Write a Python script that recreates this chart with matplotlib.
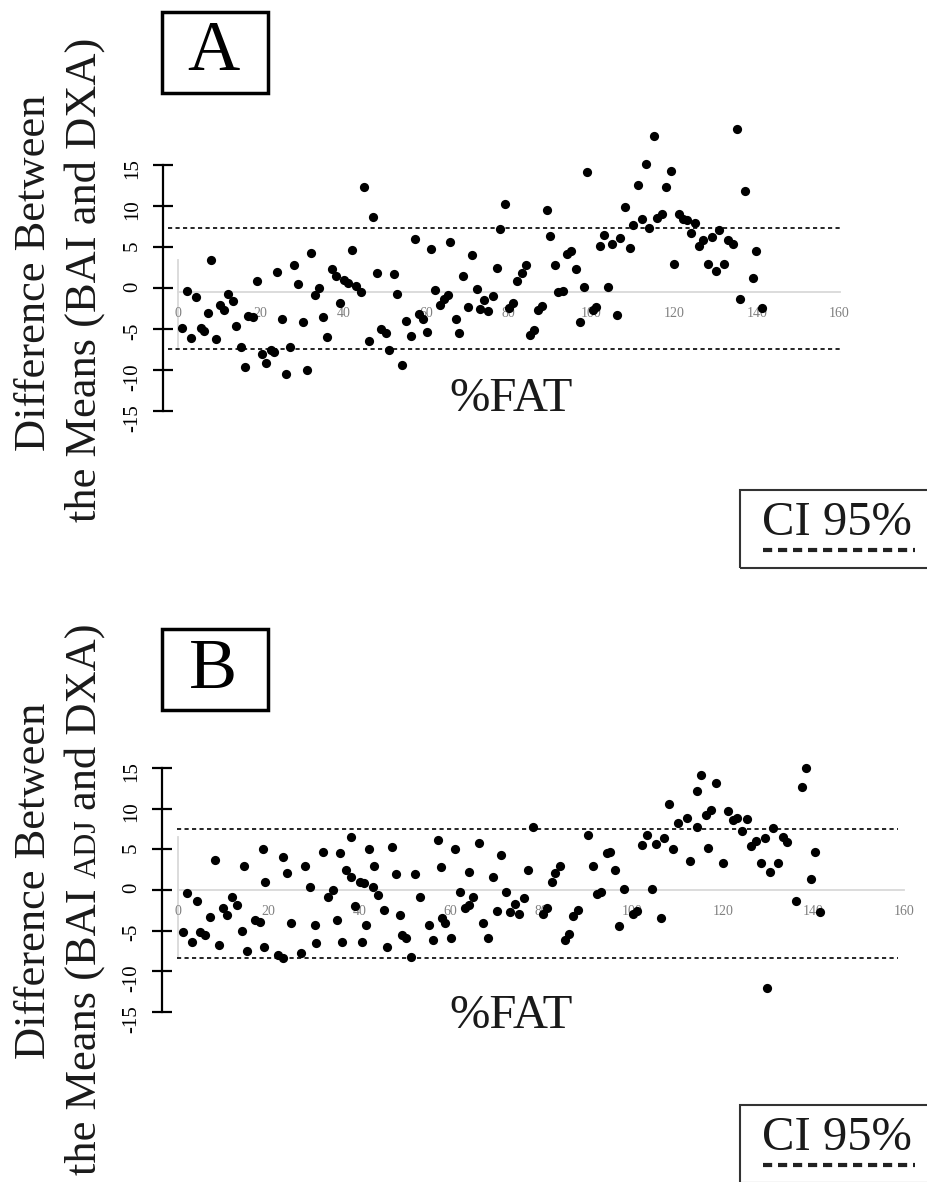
import matplotlib
matplotlib.use("Agg")
import matplotlib.pyplot as plt
from matplotlib.patches import Rectangle
from matplotlib.lines import Line2D

# panel A: difference BAI - DXA
a_x = [1.05, 2.1, 3.07, 4.27, 5.5, 6.3, 7.3, 8.1, 9.3, 10.2,
       11.1, 12.2, 13.2, 14.0, 15.2, 16.1, 17.0, 18.2, 19.0, 20.2,
       21.2, 22.4, 23.2, 24.0, 25.1, 26.1, 27.2, 28.1, 29.1, 30.2,
       31.3, 32.2, 33.1, 34.1, 35.1, 36.1, 37.2, 38.1, 39.2, 40.1,
       41.2, 42.0, 43.0, 44.2, 45.1, 46.2, 47.1, 48.2, 49.0, 50.2,
       51.1, 52.2, 53.0, 54.2, 55.1, 56.3, 57.3, 58.3, 59.2, 60.1,
       61.2, 62.1, 63.4, 64.3, 65.4, 65.9, 67.2, 68.0, 69.0, 70.2,
       71.0, 72.2, 73.0, 74.1, 75.0, 76.1, 77.1, 77.9, 79.0, 80.1,
       80.9, 82.1, 83.1, 84.1, 85.1, 86.1, 87.1, 88.0, 89.2, 90.0,
       91.2, 92.0, 93.0, 94.0, 95.0, 96.3, 97.1, 98.2, 99.0, 100.3,
       101.1, 102.1, 103.0, 104.1, 105.0, 106.1, 106.9, 108.1, 109.3, 110.1,
       111.2, 112.1, 113.1, 114.0, 115.1, 115.9, 117.1, 117.9, 119.2, 120.0,
       121.1, 122.1, 123.0, 124.1, 125.0, 126.0, 127.0, 128.1, 129.1, 130.1,
       130.9, 132.1, 133.1, 134.1, 135.1, 135.9, 137.1, 139.1, 139.9, 141.2]
a_y = [-4.9, -0.3, -6.1, -1.1, -4.9, -5.2, -3.0, 3.5, -6.2, -2.0,
       -2.7, -0.7, -1.6, -4.6, -7.1, -9.6, -3.4, -3.5, 0.9, -8.0,
       -9.1, -7.5, -7.8, 2.0, -3.7, -10.4, -7.2, 2.8, 0.5, -4.1,
       -10.0, 4.3, -0.8, 0.0, -3.5, -5.9, 2.3, 1.5, -1.8, 1.0,
       0.7, 4.7, 0.3, -0.5, 12.3, -6.4, 8.7, 1.9, -5.0, -5.5,
       -7.5, 1.8, -0.7, -9.4, -4.0, -5.8, 6.0, -3.1, -3.7, -5.3,
       4.8, -0.2, -2.0, -1.3, -0.8, 5.6, -3.8, -5.4, 1.5, -2.3,
       4.1, -0.1, -2.5, -1.4, -2.8, -0.9, 2.5, 7.2, 10.3, -2.4,
       -1.8, 0.9, 1.9, 2.8, -5.7, -5.1, -2.7, -2.1, 9.6, 6.4,
       2.8, -0.4, -0.3, 4.2, 4.5, 2.3, -4.1, 0.2, 14.2, -2.6,
       -2.3, 5.2, 6.5, 0.2, 5.4, -3.3, 6.1, 9.9, 4.9, 7.7,
       12.6, 8.4, 15.2, 7.3, 18.6, 8.6, 9.1, 12.3, 14.3, 3.0,
       9.0, 8.4, 8.3, 6.8, 8.0, 5.1, 5.9, 3.0, 6.2, 2.1,
       7.1, 3.0, 5.9, 5.4, 19.4, -1.3, 11.9, 1.3, 4.5, -2.4]
a_ci = [7.4, -7.4]

# panel B: difference BAI adj - DXA
b_x = [1.0, 2.05, 3.0, 4.1, 4.85, 5.95, 7.05, 8.15, 9.1, 10.0,
       10.9, 12.0, 13.1, 14.0, 14.6, 15.1, 17.0, 18.1, 18.8, 19.0,
       19.2, 22.1, 23.1, 23.2, 23.9, 25.0, 27.1, 28.0, 29.1, 30.2,
       30.4, 32.0, 33.1, 34.2, 35.1, 35.7, 36.1, 37.0, 38.0, 38.0,
       39.0, 40.1, 40.5, 41.0, 41.4, 42.1, 43.0, 43.2, 44.1, 45.4,
       46.1, 47.2, 48.0, 49.0, 49.3, 50.2, 51.3, 52.2, 53.2, 55.2,
       56.2, 57.3, 57.9, 58.1, 58.8, 60.1, 61.0, 62.1, 63.2, 64.2,
       64.0, 65.0, 66.2, 67.2, 68.3, 69.3, 70.3, 71.1, 72.2, 73.1,
       74.2, 75.2, 76.2, 77.2, 78.3, 80.3, 81.2, 82.3, 83.0, 84.1,
       85.2, 86.1, 87.1, 88.2, 90.2, 91.3, 92.2, 93.2, 94.4, 95.2,
       96.3, 97.2, 98.2, 100.3, 101.2, 102.3, 103.2, 104.3, 105.3, 106.4,
       107.0, 108.2, 109.1, 110.2, 112.2, 112.8, 114.3, 114.4, 115.1, 116.2,
       116.7, 117.3, 118.4, 120.1, 121.2, 122.2, 123.2, 124.3, 125.3, 126.2,
       127.3, 128.4, 129.4, 129.7, 130.4, 131.1, 132.2, 133.3, 134.2, 136.1,
       137.4, 138.3, 139.4, 140.3, 141.4]
b_y = [-5.2, -0.4, -6.4, -1.3, -5.2, -5.5, -3.35, 3.7, -6.75, -2.25,
       -3.1, -0.8, -1.85, -5.0, 2.9, -7.5, -3.7, -3.9, 5.1, -7.0,
       1.0, -8.0, -8.4, 4.0, 2.1, -4.0, -7.8, 3.0, 0.4, -4.3,
       -6.5, 4.7, -0.9, 0.0, -3.7, 4.5, -6.4, 2.5, 6.5, 1.55,
       -2.0, 1.0, -6.4, 0.8, -4.3, 5.0, 0.4, 2.9, -0.6, -2.4,
       -7.0, 5.3, 2.0, -3.1, -5.5, -5.9, -8.2, 2.0, -0.9, -4.3,
       -6.1, 6.2, 2.8, -3.5, -4.0, -5.9, 5.0, -0.3, -2.25, 2.25,
       -1.85, -0.9, 5.8, -4.0, -5.9, 1.55, -2.6, 4.3, -0.2, -2.7,
       -1.75, -3.0, -1.0, 2.5, 7.7, -3.0, -2.25, 0.95, 2.05, 2.9,
       -6.1, -5.4, -3.2, -2.5, 6.8, 2.95, -0.5, -0.3, 4.5, 4.7,
       2.4, -4.4, 0.1, -2.9, -2.6, 5.5, 6.8, 0.1, 5.65, -3.5,
       6.4, 10.6, 5.1, 8.3, 8.9, 3.6, 12.2, 7.7, 14.1, 9.2,
       5.2, 9.8, 13.2, 3.3, 9.7, 8.6, 8.9, 7.3, 8.7, 5.4,
       6.05, 3.3, 6.4, -12.0, 2.25, 7.6, 3.3, 6.5, 5.9, -1.4,
       12.7, 14.95, 1.35, 4.7, -2.7]
b_ci = [7.5, -8.4]

x_ticks = [0, 20, 40, 60, 80, 100, 120, 140, 160]
y_ticks = [-15, -10, -5, 0, 5, 10, 15]

W, H = 928, 1182
plt.rcParams['font.family'] = ['Liberation Serif', 'DejaVu Serif']
plt.rcParams['axes.unicode_minus'] = False
fig = plt.figure(figsize=(W / 100, H / 100), dpi=100)


def fx(px):
    return px / W


def fy(py):
    return 1 - py / H


def panel(xv, yv, ci, x0, sx, y0, sy, box, axis_px, zero_y, stub, ci_span):
    # box is in image pixels (left, top, right, bottom); data -> pixel via x0,sx,y0,sy
    L, T, R, B = box
    ax = fig.add_axes([fx(L), fy(B), (R - L) / W, (B - T) / H])
    ax.set_xlim((L - x0) / sx, (R - x0) / sx)
    ax.set_ylim((y0 - B) / sy, (y0 - T) / sy)
    ax.patch.set_visible(False)
    ax.spines['top'].set_visible(False)
    ax.spines['right'].set_visible(False)
    ax.spines['left'].set_position(('data', (axis_px - x0) / sx))
    ax.spines['left'].set_bounds(-15, 15)
    ax.spines['left'].set_linewidth(1.6)
    ax.spines['bottom'].set_position(('data', zero_y))
    ax.spines['bottom'].set_bounds(0, 160)
    ax.spines['bottom'].set_color('#d9d9d9')
    ax.spines['bottom'].set_linewidth(1.3)
    ax.set_xticks(x_ticks)
    ax.tick_params(axis='x', length=0, pad=11, labelsize=10, labelcolor='#808080')
    ax.set_yticks(y_ticks)
    ax.tick_params(axis='y', direction='inout', length=14, width=1.6, pad=8,
                   labelsize=15, labelrotation=90)
    ax.plot([0, 0], stub, color='#d9d9d9', lw=1.3, zorder=1)
    ax.hlines(ci, ci_span[0], ci_span[1], colors='black', lw=1.2,
              linestyles=(0, (2.5, 2)), zorder=2)
    ax.scatter(xv, yv, s=44, color='black', linewidths=0, zorder=3)
    return ax


panel(a_x, a_y, a_ci, 178, 4.135, 288.3, 8.2, (140, 110, 870, 430), 163,
      -0.4, [3.45, -7.1], (-2.4, 160.5))
panel(b_x, b_y, b_ci, 178, 4.54, 890, 8.13, (140, 740, 930, 1045), 161.7,
      0, [6.55, -8.2], (-0.3, 158.5))


def label_line(pieces, x_base, y_mid, gap):
    texts = [fig.text(0, 0, s, fontsize=size, rotation=90, rotation_mode='anchor',
                      ha='left', va='baseline', color='#1a1a1a') for s, size in pieces]
    fig.canvas.draw()
    r = fig.canvas.get_renderer()
    lengths = [t.get_window_extent(r).height for t in texts]
    total = sum(lengths) + gap * (len(texts) - 1)
    y = (H - y_mid) - total / 2
    for t, ln in zip(texts, lengths):
        t.set_position((x_base / W, y / H))
        y += ln + gap


label_line([("Difference Between", 32)], 45, 273, 0)
label_line([("the Means (BAI and DXA)", 32)], 96, 280, 0)
label_line([("Difference Between", 32)], 45, 881, 0)
label_line([("the Means (BAI", 32), ("ADJ", 23), ("and DXA)", 32)], 96, 899, 10)

for tag, top in [("A", 12), ("B", 629)]:
    fig.add_artist(Rectangle((fx(162), fy(top + 81)), 106 / W, 81 / H,
                             transform=fig.transFigure, fill=False, lw=2.5, ec='black'))
    fig.text(fx(213), fy(top + 41), tag, fontsize=52, ha='center', va='center')

for yc in [399, 1016]:
    fig.text(fx(511), fy(yc), "%FAT", fontsize=35, ha='center', va='center', color='#1a1a1a')

for top in [490, 1105]:
    fig.add_artist(Rectangle((fx(740), fy(top + 78)), 200 / W, 78 / H,
                             transform=fig.transFigure, fill=False, lw=1.5, ec='#333333'))
    fig.text(fx(837), fy(top + 33), "CI 95%", fontsize=35, ha='center', va='center',
             color='#1a1a1a')
    fig.add_artist(Line2D([fx(763), fx(915)], [fy(top + 60)] * 2, transform=fig.transFigure,
                          lw=3, color='#222222', linestyle=(0, (2.2, 1.4))))

fig.savefig("out.png", dpi=100)
